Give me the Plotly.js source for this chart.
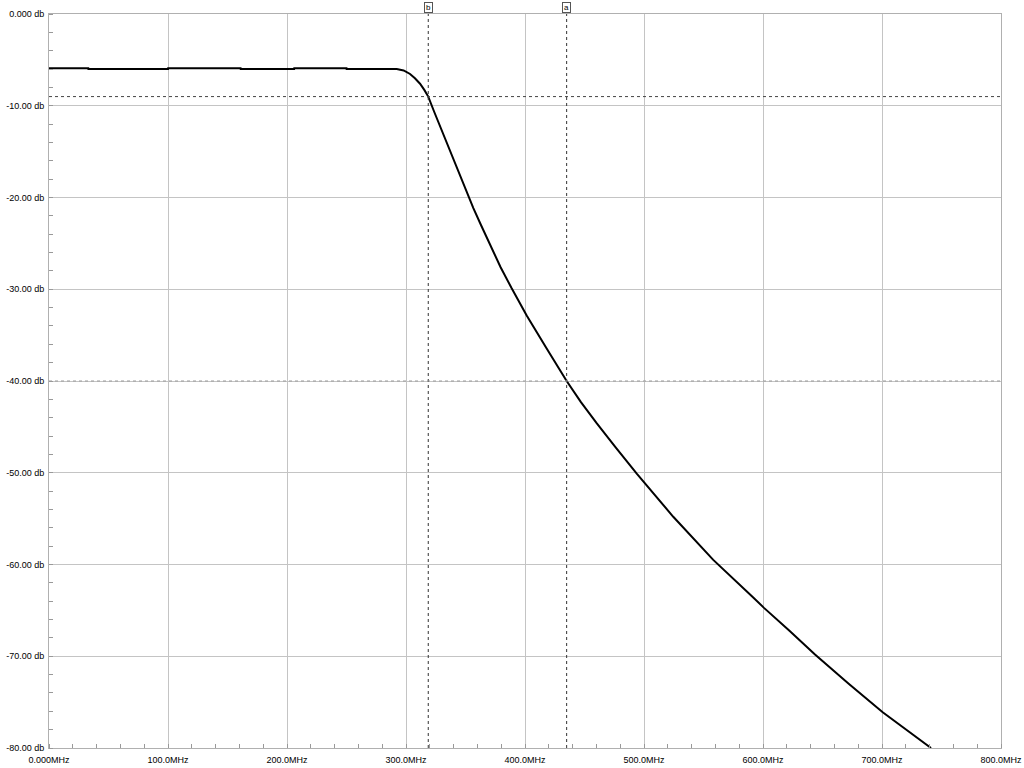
<!DOCTYPE html>
<html>
<head>
<meta charset="utf-8">
<script src="https://cdn.plot.ly/plotly-3.0.1.min.js"></script>
<style>html,body{margin:0;padding:0;background:#fff;}#chart{width:1024px;height:768px;}</style>
</head>
<body>
<div id="chart"></div>
<script>
// Frequency response data (MHz, dB)
const freqMHz = [0, 33, 33.1, 100, 100.1, 161, 161.1, 206, 206.1, 250, 250.1, 281, 281.1, 292.2, 298.0, 303.4, 307.5, 311.8, 315.5, 318.7, 323.5, 328.6, 337.0, 345.4, 356.6, 363.0, 370.6, 379.5, 388.8, 401.4, 418.2, 435.0, 447.0, 460.2, 476.0, 493.9, 524.6, 558.2, 591.8, 600.6, 622.0, 643.7, 672.0, 700.6, 741.2];
const levelDb = [-5.9, -5.9, -6.0, -6.0, -5.9, -5.9, -6.0, -6.0, -5.9, -5.9, -6.0, -6.0, -5.95, -6.0, -6.15, -6.54, -7.0, -7.6, -8.3, -9.0, -10.6, -12.25, -14.95, -17.7, -21.15, -23.0, -25.2, -27.6, -29.9, -32.85, -36.45, -40.0, -42.3, -44.6, -47.2, -50.1, -54.8, -59.5, -63.6, -64.7, -67.2, -69.8, -73.0, -76.1, -80.0];

// Markers
const markerLabels = ['b', 'a'];
const markerFreqs = [318.7, 435.0];
const markerLevels = [-9.0, -40.0];

// Tick labels
const xTickVals = [0, 100, 200, 300, 400, 500, 600, 700, 800];
const xTickText = ['0.000MHz', '100.0MHz', '200.0MHz', '300.0MHz', '400.0MHz', '500.0MHz', '600.0MHz', '700.0MHz', '800.0MHz'];
const yTickVals = [0, -10, -20, -30, -40, -50, -60, -70, -80];
const yTickText = ['0.000 db', '-10.00 db', '-20.00 db', '-30.00 db', '-40.00 db', '-50.00 db', '-60.00 db', '-70.00 db', '-80.00 db'];

const shapes = [];
const annotations = [];
markerFreqs.forEach((f, i) => {
  shapes.push({type: 'line', xref: 'x', yref: 'paper', x0: f, x1: f, y0: 0, y1: 1,
    line: {color: '#333', width: 1, dash: 'dot'}});
  annotations.push({x: f, xref: 'x', y: 1, yref: 'paper', yanchor: 'bottom', yshift: 1,
    text: markerLabels[i], showarrow: false, font: {family: 'Liberation Sans', size: 8, color: '#000'},
    bordercolor: '#555', borderwidth: 1, borderpad: 0, bgcolor: '#fff', width: 7, height: 9});
});
shapes.push({type: 'line', xref: 'paper', yref: 'y', x0: 0, x1: 1, y0: markerLevels[0], y1: markerLevels[0],
  line: {color: '#444', width: 1, dash: 'dot'}});
shapes.push({type: 'line', xref: 'paper', yref: 'y', x0: 0, x1: 1, y0: markerLevels[1], y1: markerLevels[1],
  line: {color: '#999', width: 1, dash: 'dot'}});

const trace = {x: freqMHz, y: levelDb, type: 'scatter', mode: 'lines',
  line: {color: '#000', width: 2, shape: 'linear'}, hoverinfo: 'skip'};

const axisFont = {family: 'Liberation Sans, Arial, sans-serif', size: 9, color: '#000'};

const layout = {
  width: 1024, height: 768,
  margin: {l: 49, r: 23, t: 14, b: 20},
  paper_bgcolor: '#fff', plot_bgcolor: '#fff',
  showlegend: false,
  xaxis: {range: [0, 800], tickvals: xTickVals, ticktext: xTickText, tickfont: axisFont,
    showgrid: true, gridcolor: '#c4c4c4', gridwidth: 1, zeroline: false,
    showline: true, linecolor: '#b0b0b0', linewidth: 1, mirror: true,
    ticks: '', ticklabelstandoff: 3,
    minor: {dtick: 20, ticks: 'inside', ticklen: 4, tickcolor: '#999', tickwidth: 1, showgrid: false}},
  yaxis: {range: [-80, 0], tickvals: yTickVals, ticktext: yTickText, tickfont: axisFont,
    showgrid: true, gridcolor: '#c4c4c4', gridwidth: 1, zeroline: false,
    showline: true, linecolor: '#b0b0b0', linewidth: 1, mirror: true,
    ticks: '', ticklabelstandoff: 2,
    minor: {dtick: 2, ticks: 'inside', ticklen: 4, tickcolor: '#999', tickwidth: 1, showgrid: false}},
  shapes: shapes,
  annotations: annotations
};

Plotly.newPlot('chart', [trace], layout, {staticPlot: true, displayModeBar: false});
</script>
</body>
</html>
